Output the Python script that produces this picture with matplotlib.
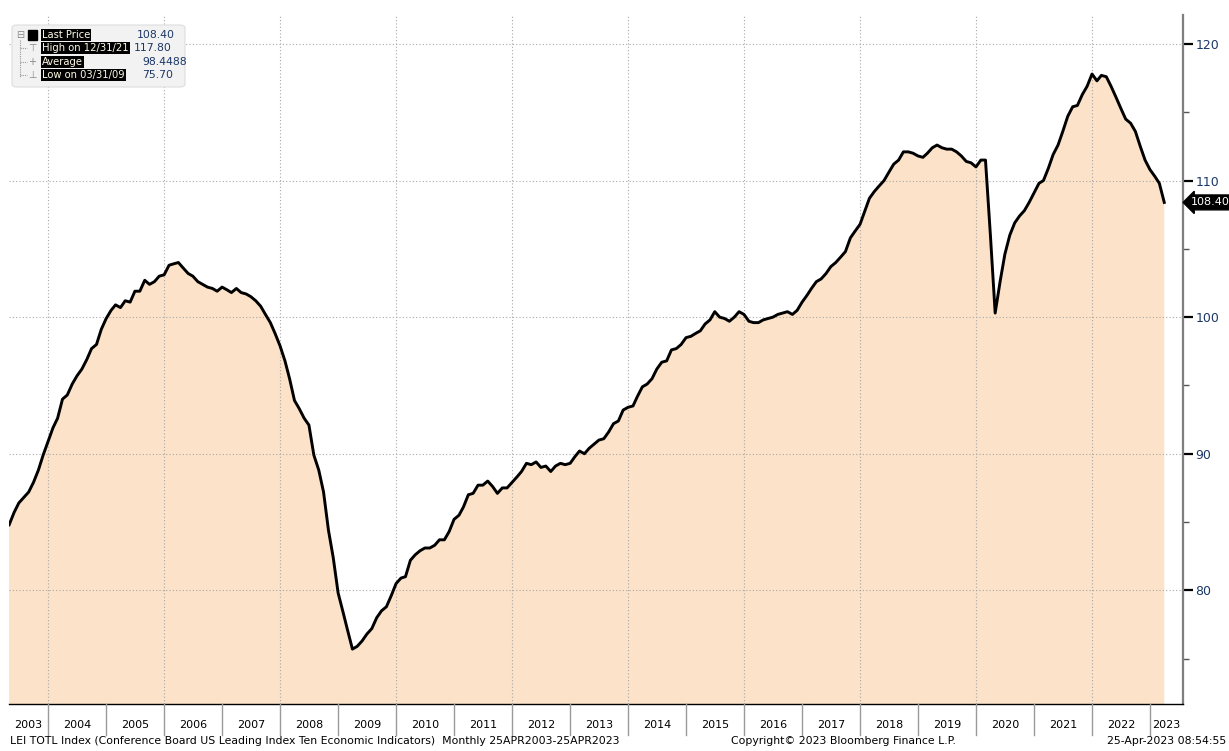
import matplotlib
matplotlib.use("Agg")
import matplotlib.pyplot as plt
import matplotlib.dates as mdates
import matplotlib.transforms as mtransforms
from matplotlib.patches import FancyBboxPatch, Rectangle
import pandas as pd
import datetime as dt

# LEI TOTL Index, monthly, Apr-2003 .. Mar-2023
dates = pd.date_range("2003-04-30", periods=240, freq="ME")
lei = [
    84.8, 85.7, 86.4, 86.8, 87.2, 87.9, 88.8, 89.9, 90.9,                          # 2003
    91.9, 92.6, 94.0, 94.3, 95.1, 95.7, 96.2, 96.9, 97.7, 98.0, 99.1, 99.9,        # 2004
    100.5, 100.9, 100.7, 101.2, 101.1, 101.9, 101.9, 102.7, 102.4, 102.6, 103.0, 103.1,  # 2005
    103.8, 103.9, 104.0, 103.6, 103.2, 103.0, 102.6, 102.4, 102.2, 102.1, 101.9, 102.2,  # 2006
    102.0, 101.8, 102.1, 101.8, 101.7, 101.5, 101.2, 100.8, 100.2, 99.6, 98.8, 97.9,     # 2007
    96.8, 95.5, 93.9, 93.3, 92.6, 92.1, 89.9, 88.8, 87.2, 84.4, 82.4, 79.8,        # 2008
    78.4, 77.1, 75.7, 75.9, 76.3, 76.8, 77.2, 78.0, 78.5, 78.8, 79.6, 80.5,        # 2009
    80.9, 81.0, 82.2, 82.6, 82.9, 83.1, 83.1, 83.3, 83.7, 83.7, 84.3, 85.2,        # 2010
    85.5, 86.1, 87.0, 87.1, 87.7, 87.7, 88.0, 87.6, 87.1, 87.5, 87.5, 87.9,        # 2011
    88.3, 88.7, 89.3, 89.2, 89.4, 89.0, 89.1, 88.7, 89.1, 89.3, 89.2, 89.3,        # 2012
    89.8, 90.2, 90.0, 90.4, 90.7, 91.0, 91.1, 91.6, 92.2, 92.4, 93.2, 93.4,        # 2013
    93.5, 94.2, 94.9, 95.1, 95.5, 96.2, 96.7, 96.8, 97.6, 97.7, 98.0, 98.5,        # 2014
    98.6, 98.8, 99.0, 99.5, 99.8, 100.4, 100.0, 99.9, 99.7, 100.0, 100.4, 100.2,   # 2015
    99.7, 99.6, 99.6, 99.8, 99.9, 100.0, 100.2, 100.3, 100.4, 100.2, 100.5, 101.1, # 2016
    101.6, 102.1, 102.6, 102.8, 103.2, 103.7, 104.0, 104.4, 104.8, 105.8, 106.3, 106.8,  # 2017
    107.8, 108.7, 109.2, 109.6, 110.0, 110.6, 111.2, 111.5, 112.1, 112.1, 112.0, 111.8,  # 2018
    111.7, 112.0, 112.4, 112.6, 112.4, 112.3, 112.3, 112.1, 111.8, 111.4, 111.3, 111.0,  # 2019
    111.5, 111.5, 106.0, 100.3, 102.6, 104.6, 106.0, 106.9, 107.4, 107.8, 108.4, 109.1,  # 2020
    109.8, 110.0, 110.9, 111.9, 112.6, 113.6, 114.7, 115.4, 115.5, 116.3, 116.9, 117.8,  # 2021
    117.3, 117.7, 117.6, 116.9, 116.1, 115.3, 114.5, 114.2, 113.6, 112.5, 111.5, 110.8,  # 2022
    110.3, 109.8, 108.4,                                                           # 2023
]
years = list(range(2003, 2024))
y_major = [80, 90, 100, 110, 120]
y_minor = [75, 85, 95, 105, 115]
legend_rows = ["Last Price", "High on 12/31/21", "Average", "Low on 03/31/09"]
legend_vals = ["108.40", "117.80", "98.4488", "75.70"]
last_price = lei[-1]

W, H = 1229, 751
fig = plt.figure(figsize=(W / 100, H / 100), dpi=100)
plt.rcParams["font.family"] = ["DejaVu Sans"]

ax = fig.add_axes([9 / W, 1 - 704 / H, (1183 - 9) / W, (704 - 15) / H])
fill_col = "#FBE2C8"
ax.fill_between(dates, lei, 60, color=fill_col, lw=0, zorder=1)
ax.plot(dates, lei, color="black", lw=2.1, zorder=4)

x0 = mdates.date2num(dt.datetime(2003, 4, 29))
x1 = mdates.date2num(dt.datetime(2023, 7, 27))
ax.set_xlim(x0, x1)
ax.set_ylim(71.68, 122.12)

# grid
for v in y_major:
    ax.axhline(v, color="#a8a8a8", lw=0.8, ls=(0, (1, 2)), zorder=2)
for yr in range(2004, 2023, 2):
    ax.axvline(mdates.date2num(dt.datetime(yr, 1, 1)), color="#a8a8a8",
               lw=0.8, ls=(0, (1, 2)), zorder=2)

# spines
for s in ["left", "top"]:
    ax.spines[s].set_visible(False)
ax.spines["right"].set_color("#7f7f7f")
ax.spines["right"].set_linewidth(1.6)
ax.spines["bottom"].set_color("black")
ax.spines["bottom"].set_linewidth(1.0)

# y axis on right
ax.yaxis.tick_right()
ax.set_yticks(y_major)
ax.set_yticks(y_minor, minor=True)
ax.tick_params(axis="y", which="major", length=7, width=1.6, color="black",
               labelsize=9, labelcolor="#1b3766", pad=2)
ax.tick_params(axis="y", which="minor", length=4, width=1.0, color="#555555")
ax.set_xticks([])

# x axis: year separators and centred labels
blend = mtransforms.blended_transform_factory(ax.transData, ax.transAxes)
for yr in years[1:]:
    xb = mdates.date2num(dt.datetime(yr, 1, 1))
    ax.plot([xb, xb], [0.0, -0.045], transform=blend, color="#9a9a9a",
            lw=1.0, clip_on=False, zorder=5)
for yr in years:
    a = max(mdates.date2num(dt.datetime(yr, 1, 1)), x0)
    b = min(mdates.date2num(dt.datetime(yr + 1, 1, 1)), x1)
    ax.text((a + b) / 2, -0.0305, str(yr), transform=blend, ha="center",
            va="center", fontsize=8, color="black")

# last price tag
yblend = mtransforms.blended_transform_factory(ax.transAxes, ax.transData)
ax.text(1.007, last_price, f"{last_price:.2f}", transform=yblend, ha="left",
        va="center", fontsize=8, color="white", zorder=6,
        bbox=dict(boxstyle="larrow,pad=0.22", fc="black", ec="black"))

# legend box (top-left)
def fx(px):
    return px / W

def fy(py):
    return 1 - py / H

fig.patches.append(FancyBboxPatch((fx(12), fy(87)), fx(185) - fx(12), fy(25) - fy(87),
                                  boxstyle="round,pad=0,rounding_size=0.004",
                                  transform=fig.transFigure, fc="#f2f2f2",
                                  ec="#dddddd", lw=0.8, zorder=10))
row_y = [35, 48, 62, 75]
fig.text(fx(20), fy(35), "⊟", ha="center", va="center", fontsize=7,
         color="#888888", zorder=11)
fig.patches.append(Rectangle((fx(28), fy(40)), fx(9), fy(30) - fy(40),
                             transform=fig.transFigure, fc="black", ec="black",
                             zorder=11))
fig.lines.append(plt.Line2D([fx(20), fx(20)], [fy(40), fy(77)], transform=fig.transFigure,
                            color="#999999", lw=0.8, ls=(0, (1, 1)), zorder=11))
for gy, g in zip(row_y[1:], ["⊤", "+", "⊥"]):
    fig.lines.append(plt.Line2D([fx(20), fx(27)], [fy(gy), fy(gy)],
                                transform=fig.transFigure, color="#999999",
                                lw=0.8, ls=(0, (1, 1)), zorder=11))
    fig.text(fx(32), fy(gy), g, ha="center", va="center", fontsize=7,
             color="#888888", zorder=11)
val_x = [137, 134, 142, 142]
for ry, lab, val, vx in zip(row_y, legend_rows, legend_vals, val_x):
    fig.text(fx(42), fy(ry), lab, ha="left", va="center", fontsize=7.2,
             color="#fffbe6", zorder=12,
             bbox=dict(boxstyle="square,pad=0.1", fc="black", ec="none"))
    fig.text(fx(vx), fy(ry), val, ha="left", va="center", fontsize=7.8,
             color="#1b3766", zorder=12)

# footer
fig.text(fx(10), fy(741), "LEI TOTL Index (Conference Board US Leading Index Ten Economic "
         "Indicators)  Monthly 25APR2003-25APR2023", ha="left", va="center",
         fontsize=7.8, color="black")
fig.text(fx(843), fy(741), "Copyright© 2023 Bloomberg Finance L.P.", ha="center",
         va="center", fontsize=7.8, color="black")
fig.text(fx(1226), fy(741), "25-Apr-2023 08:54:55", ha="right", va="center",
         fontsize=7.8, color="black")

fig.savefig("out.png", dpi=100, facecolor="white")
